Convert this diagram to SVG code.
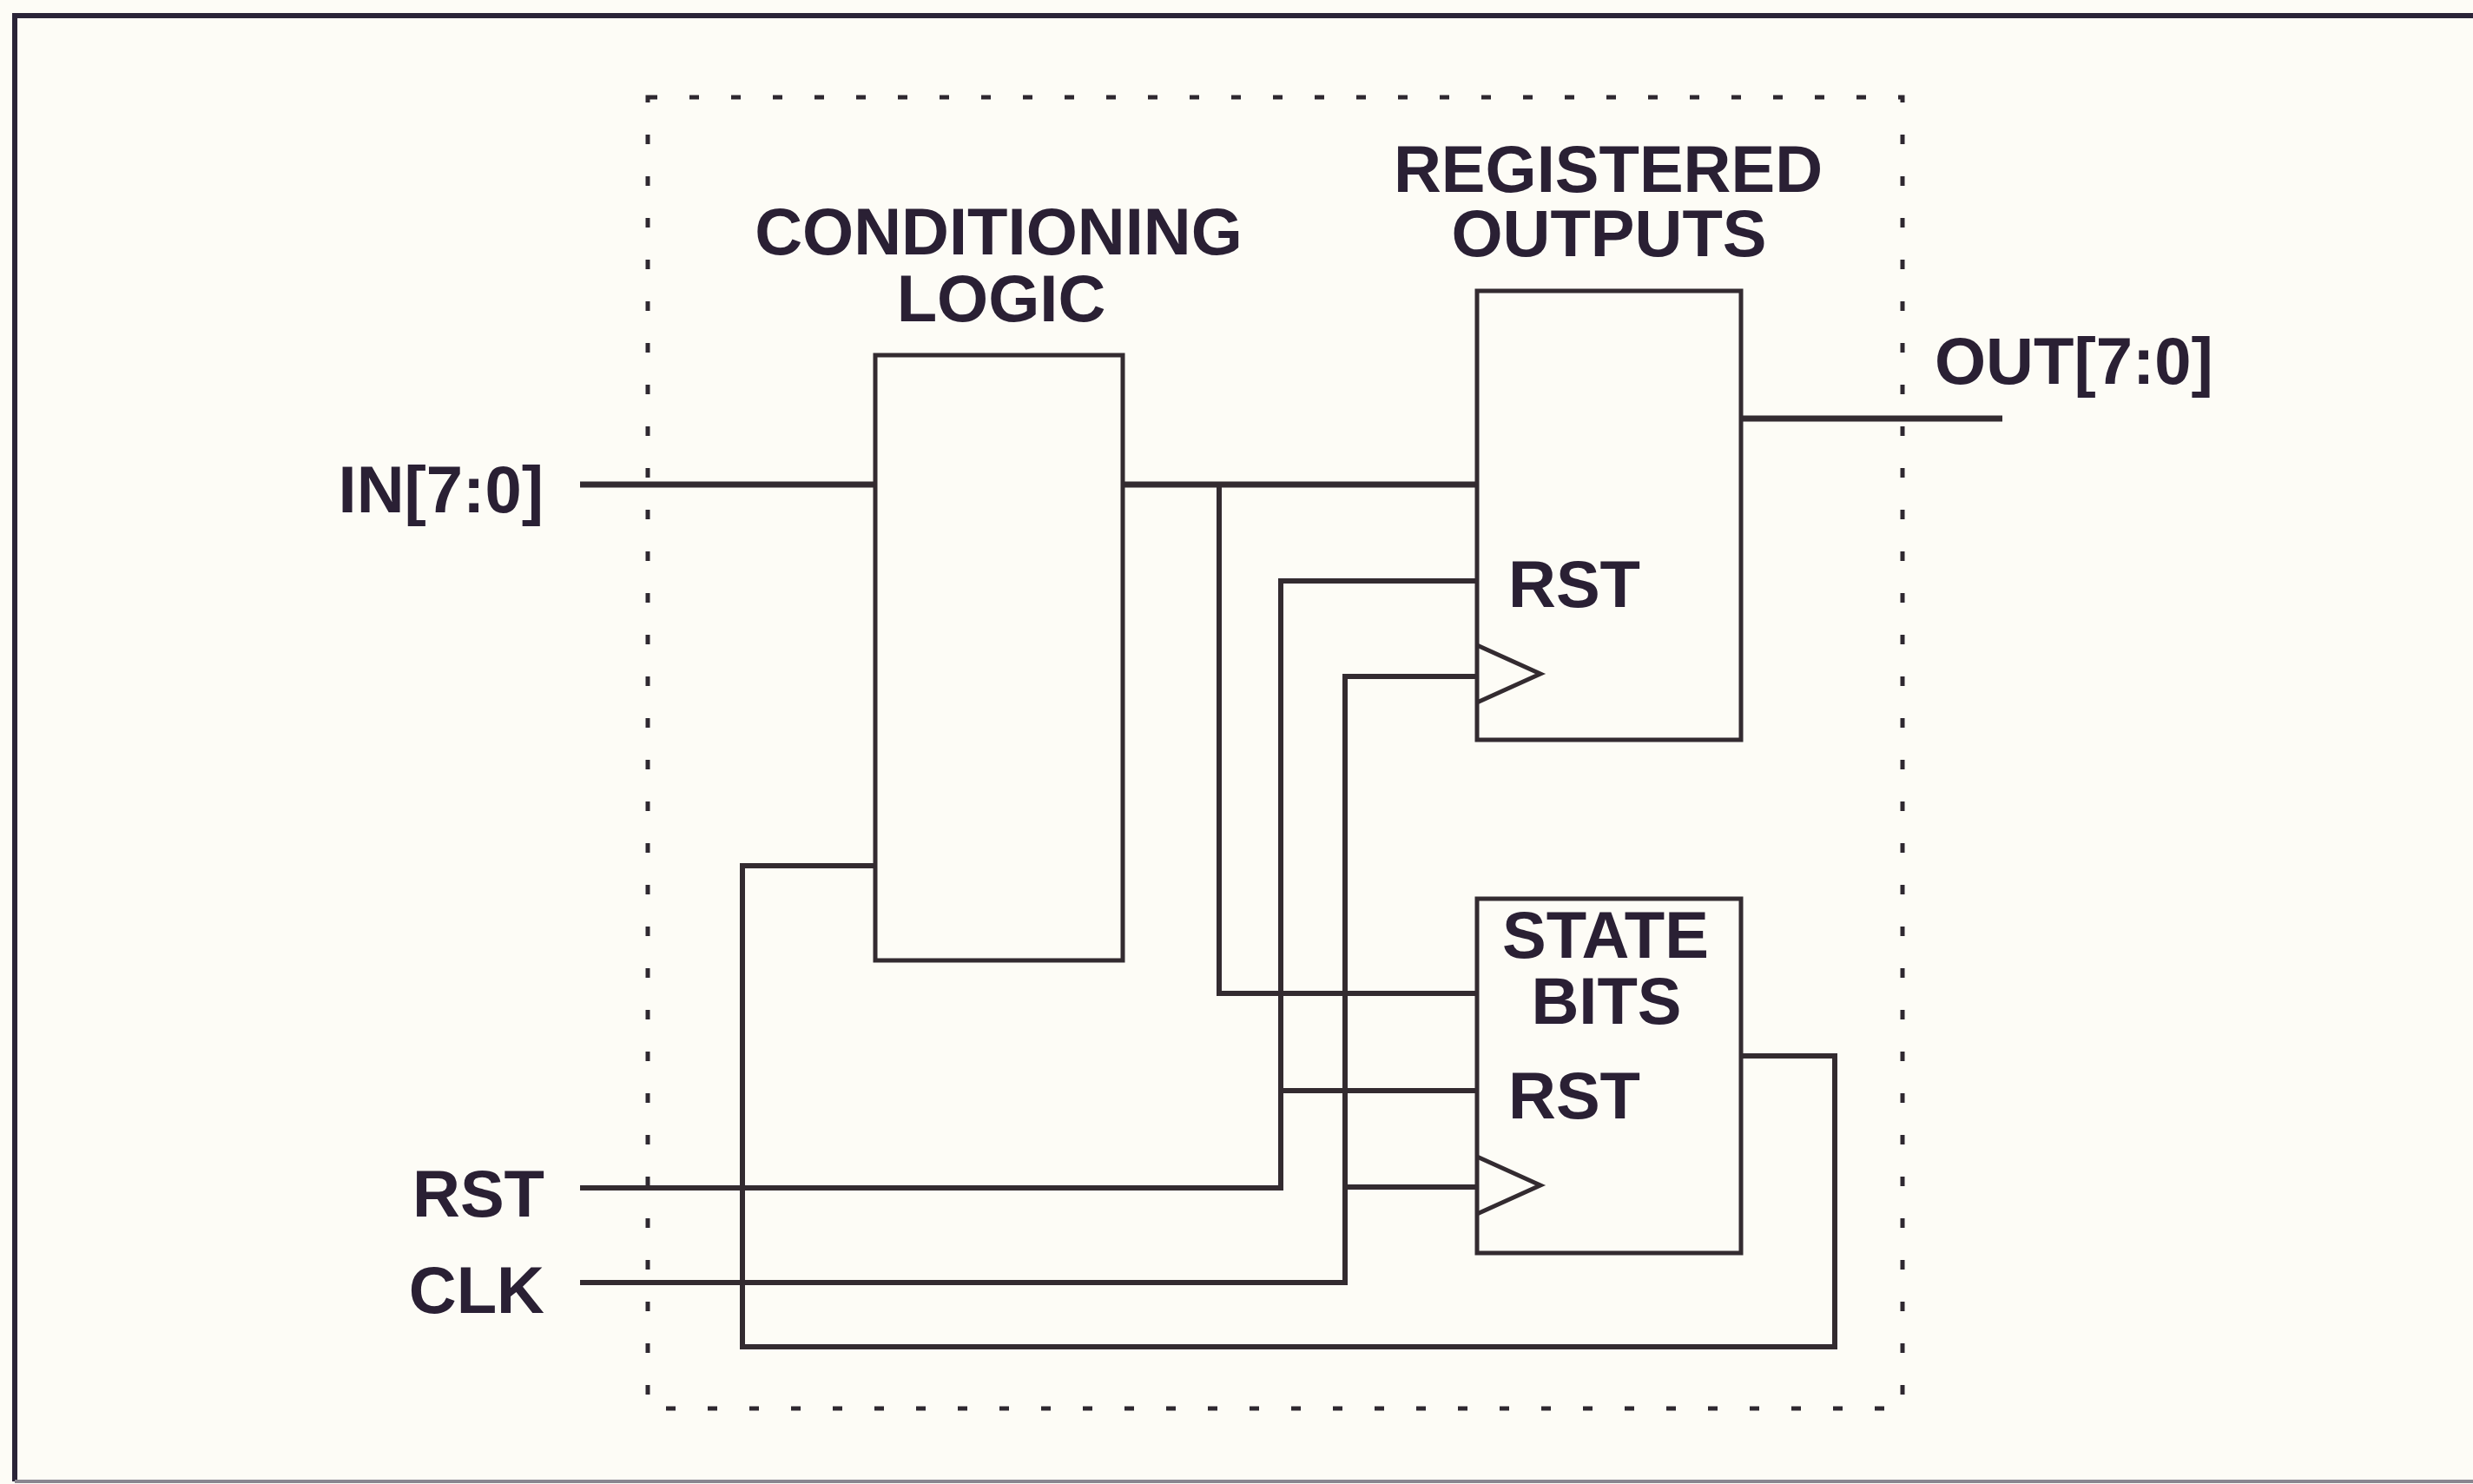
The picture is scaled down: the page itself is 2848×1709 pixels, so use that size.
<svg xmlns="http://www.w3.org/2000/svg" width="2848" height="1709" viewBox="0 0 2848 1709">
<style>
.bg{fill:#fdfcf6}
.frame{fill:none;stroke:#2a2438;stroke-width:6}
.dot{fill:none;stroke:#2e2830;stroke-width:5;stroke-dasharray:11 37}
.box{fill:none;stroke:#332b30;stroke-width:5}
.w{fill:none;stroke:#332b30;stroke-width:6;stroke-linejoin:miter}
.bus{stroke-width:7}
.t{font-family:"Liberation Sans",Arial,sans-serif;font-weight:bold;font-size:76px;fill:#2a2034}
.m{text-anchor:middle}
.e{text-anchor:end}
</style>
<rect class="bg" x="0" y="0" width="2848" height="1709"/>
<path class="frame" d="M2848 18 H17 V1706"/>
<path d="M17 1706 H2848" fill="none" stroke="#8a8690" stroke-width="4"/>
<rect id="boundary" class="dot" x="746" y="112" width="1445" height="1510"/>
<g id="connectors">
<path class="w bus" d="M668 558 H1008"/>
<path class="w bus" d="M1293 558 H1701"/>
<path class="w" d="M1404 558 V1144 H1701"/>
<path class="w" d="M668 1368 H1475 V669 H1701"/>
<path class="w" d="M1475 1256 H1701"/>
<path class="w" d="M668 1477 H1549 V779 H1701"/>
<path class="w" d="M1549 1367 H1701"/>
<path class="w" d="M2005 1216 H2113 V1551 H855 V997 H1008"/>
<path class="w bus" d="M2005 482 H2306"/>
</g>
<g id="conditioning-logic">
<rect class="box" x="1008" y="409" width="285" height="697"/>
<text class="t m" x="1150" y="293">CONDITIONING</text>
<text class="t m" x="1153" y="370">LOGIC</text>
</g>
<g id="registered-outputs">
<rect class="box" x="1701" y="335" width="304" height="517"/>
<path class="box" d="M1701 743 L1774 776 L1701 809"/>
<text class="t m" x="1852" y="221">REGISTERED</text>
<text class="t m" x="1853" y="295">OUTPUTS</text>
<text class="t" x="1737" y="699">RST</text>
</g>
<g id="state-bits">
<rect class="box" x="1701" y="1035" width="304" height="408"/>
<path class="box" d="M1701 1332 L1774 1365 L1701 1398"/>
<text class="t m" x="1849" y="1103">STATE</text>
<text class="t m" x="1850" y="1179">BITS</text>
<text class="t" x="1737" y="1288">RST</text>
</g>
<g id="in-port"><text class="t e" x="626" y="590">IN[7:0]</text></g>
<g id="out-port"><text class="t" x="2228" y="442">OUT[7:0]</text></g>
<g id="rst-port"><text class="t e" x="627" y="1401">RST</text></g>
<g id="clk-port"><text class="t e" x="627" y="1512">CLK</text></g>
</svg>
